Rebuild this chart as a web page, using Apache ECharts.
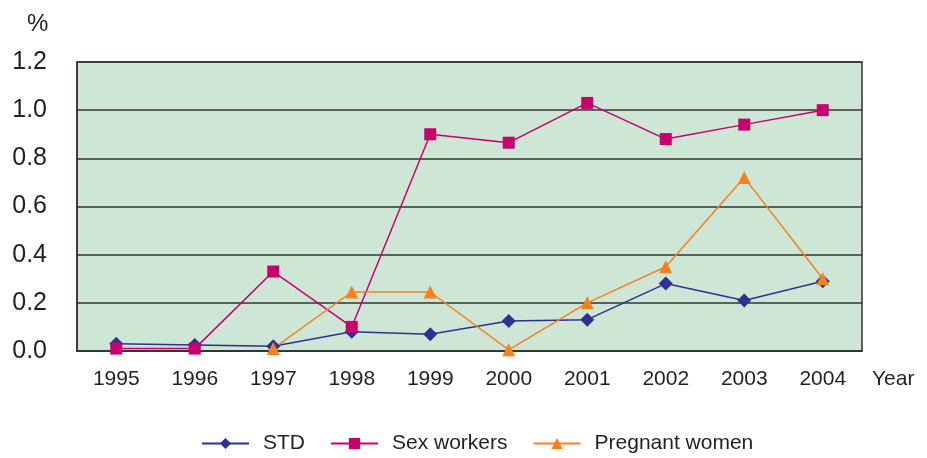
<!DOCTYPE html>
<html>
<head>
<meta charset="utf-8">
<script src="https://cdn.jsdelivr.net/npm/echarts@6/dist/echarts.min.js"></script>
<style>
  html, body { margin: 0; padding: 0; background: #fff; }
  #chart { width: 927px; height: 458px; }
</style>
</head>
<body>
<div id="chart"></div>
<script>
// values, in %
var years = ['1995', '1996', '1997', '1998', '1999', '2000', '2001', '2002', '2003', '2004']
var std = [0.03, 0.025, 0.02, 0.08, 0.07, 0.125, 0.13, 0.28, 0.21, 0.29]
var sexWorkers = [0.01, 0.01, 0.33, 0.1, 0.9, 0.865, 1.03, 0.88, 0.94, 1.0]
var pregnantWomen = [null, null, 0.01, 0.245, 0.245, 0.005, 0.2, 0.35, 0.72, 0.3]

var font = 'Liberation Sans, Arial, sans-serif'
var textColor = '#231f20'

var chart = echarts.init(document.getElementById('chart'))

function line(name, data, color, symbol, size) {
  return {
    name: name,
    type: 'line',
    data: data,
    symbol: symbol,
    symbolSize: size,
    showAllSymbol: true,
    lineStyle: { color: color, width: 1.5 },
    itemStyle: { color: color },
    animation: false
  }
}

chart.setOption({
  title: {
    text: '%',
    left: 22,
    top: 7,
    textStyle: { fontFamily: font, fontSize: 24, fontWeight: 'normal', color: textColor }
  },
  graphic: [{
    type: 'text',
    left: 872,
    top: 369,
    style: { text: 'Year', fontFamily: font, fontSize: 21, fill: textColor }
  }],
  legend: {
    left: 196,
    top: 428,
    itemWidth: 47,
    itemHeight: 14,
    itemGap: 25,
    textStyle: { fontFamily: font, fontSize: 21, color: textColor, padding: [0, 0, 0, 9] },
    data: ['STD', 'Sex workers', 'Pregnant women']
  },
  grid: {
    left: 77,
    right: 65,
    top: 62,
    bottom: 107,
    show: true,
    backgroundColor: '#cde6d5',
    borderColor: '#333',
    borderWidth: 1.5
  },
  xAxis: {
    type: 'category',
    data: years,
    boundaryGap: true,
    axisLine: { lineStyle: { color: '#333', width: 1.5 } },
    axisTick: { inside: true, length: 9, lineStyle: { color: '#333', width: 1.5 } },
    axisLabel: { fontFamily: font, fontSize: 21, color: textColor, margin: 18 }
  },
  yAxis: {
    type: 'value',
    min: 0,
    max: 1.2,
    interval: 0.2,
    axisLine: { show: true, lineStyle: { color: '#333', width: 1.5 } },
    axisTick: { show: false },
    splitLine: { lineStyle: { color: '#333', width: 1.5 } },
    axisLabel: {
      fontFamily: font,
      fontSize: 25,
      color: textColor,
      margin: 30,
      formatter: function (v) { return v.toFixed(1) }
    }
  },
  series: [
    line('STD', std, '#2e3192', 'diamond', 14),
    line('Sex workers', sexWorkers, '#c8006e', 'rect', 12),
    line('Pregnant women', pregnantWomen, '#f5821f', 'triangle', 13)
  ]
})
</script>
</body>
</html>
